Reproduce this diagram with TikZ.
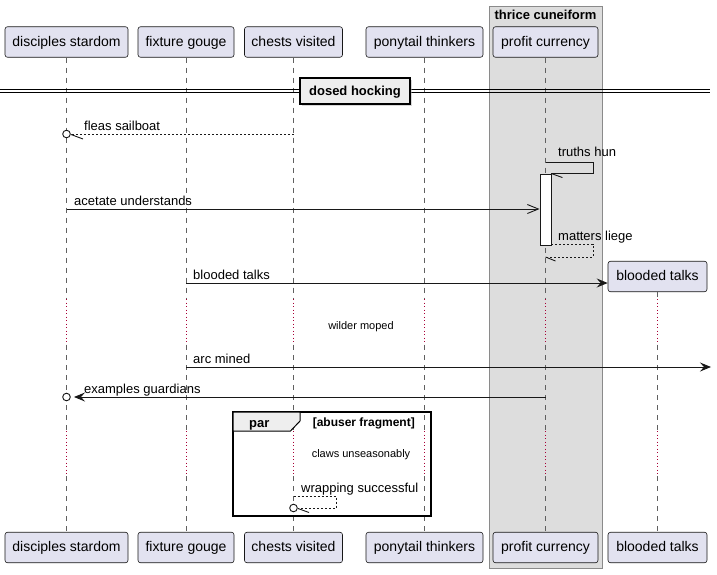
\documentclass[tikz,border=0pt]{standalone}
\usepackage{fontspec}
\setmainfont{Liberation Sans}
\usetikzlibrary{arrows.meta,calc,shadows}
\definecolor{partfill}{HTML}{E2E2F0}
\definecolor{ink}{HTML}{181818}
\definecolor{boxfill}{HTML}{DDDDDD}
\definecolor{boxline}{HTML}{8A8A8A}
\definecolor{delaydot}{HTML}{A80036}
\definecolor{tabfill}{HTML}{EEEEEE}
\begin{document}
\begin{tikzpicture}[x=1pt,y=-1pt,
  participant/.style={draw=ink,fill=partfill,rounded corners=2.5pt,line width=0.6pt,
    minimum height=30.5pt,inner sep=0pt,text height=11pt,text depth=3pt,
    font=\fontsize{14}{16}\selectfont},
  lifeline/.style={draw=gray!75!black,line width=0.6pt,dash pattern=on 5pt off 5pt},
  delayline/.style={draw=delaydot,line width=1pt,dash pattern=on 1pt off 2.5pt},
  msg/.style={draw=ink,line width=0.9pt},
  reply/.style={msg,dash pattern=on 2pt off 2pt},
  lbl/.style={anchor=base west,inner sep=0pt,font=\fontsize{13}{15}\selectfont},
  smalltext/.style={anchor=base,inner sep=0pt,font=\fontsize{11}{13}\selectfont},
  headtext/.style={inner sep=0pt,font=\fontsize{13}{15}\selectfont\bfseries},
  filledhead/.style={-{Stealth[length=11pt,width=9pt,inset=4pt]}},
  openhead/.style={-{Straight Barb[length=11pt,width=9pt]}},
]
\useasboundingbox (0,0) rectangle (717,574);

% box grouping profit currency
\draw[boxline,fill=boxfill,line width=0.8pt] (489,6) rectangle (602,568);
\node[headtext,anchor=base] (boxtitle) at (545.5,19) {thrice cuneiform};

% participants, top row
\node[participant,minimum width=123pt] (pA) at (66.5,42) {disciples stardom};
\node[participant,minimum width=96pt]  (pB) at (186,42)  {fixture gouge};
\node[participant,minimum width=98pt]  (pC) at (293.5,42) {chests visited};
\node[participant,minimum width=117pt] (pD) at (424.5,42) {ponytail thinkers};
\node[participant,minimum width=105pt] (pE) at (545.5,42) {profit currency};
\node[participant,minimum width=99pt]  (pF) at (657.5,276.5) {blooded talks};

% participants, bottom row
\node[participant,minimum width=123pt] (qA) at (66.5,547.5) {disciples stardom};
\node[participant,minimum width=96pt]  (qB) at (186,547.5)  {fixture gouge};
\node[participant,minimum width=98pt]  (qC) at (293.5,547.5) {chests visited};
\node[participant,minimum width=117pt] (qD) at (424.5,547.5) {ponytail thinkers};
\node[participant,minimum width=105pt] (qE) at (545.5,547.5) {profit currency};
\node[participant,minimum width=99pt]  (qF) at (657.5,547.5) {blooded talks};

% delay bands
\coordinate (d1s) at (0,299);
\coordinate (d1e) at (0,345);
\coordinate (d2s) at (0,431);
\coordinate (d2e) at (0,476);

% lifelines
\foreach \p in {A,B,C,D,E,F}{
  \draw[lifeline] (p\p.south) -- (p\p |- d1s);
  \draw[delayline] (p\p |- d1s) -- (p\p |- d1e);
  \draw[lifeline] (p\p |- d1e) -- (p\p |- d2s);
  \draw[delayline] (p\p |- d2s) -- (p\p |- d2e);
  \draw[lifeline] (p\p |- d2e) -- (q\p.north);
}

% divider
\draw[black,line width=0.9pt] (0,89) -- (710,89);
\draw[black,line width=0.9pt] (0,92) -- (710,92);
\node[draw=black,line width=1.5pt,fill=tabfill,minimum width=110pt,minimum height=26pt,
  text height=11pt,text depth=2pt,inner sep=0pt,font=\fontsize{13}{15}\selectfont\bfseries,
  drop shadow={shadow xshift=2pt,shadow yshift=-2pt,fill=gray!60}] (div) at (355,91) {dosed hocking};

% row levels of the messages
\coordinate (r1) at (0,134);
\coordinate (r2) at (0,162);
\coordinate (r3) at (0,209);
\coordinate (r4) at (0,244);
\coordinate (r5) at (0,257);
\coordinate (r6) at (0,283);
\coordinate (r7) at (0,367);
\coordinate (r8) at (0,397);
\coordinate (r9) at (0,496);
\coordinate (r10) at (0,508);
\coordinate (farright) at (711,367);

% fleas sailboat
\draw[reply] (pC |- r1) -- ($(pA |- r1)+(4,0)$);
\draw[msg,fill=white] (pA |- r1) circle (3.8);
\draw[msg] ($(pA |- r1)+(4.5,0.5)$) -- ++(12,4.5);
\node[lbl] (t1) at (84,130) {fleas sailboat};

% activation
\node[draw=ink,fill=white,line width=0.9pt,minimum width=11pt,minimum height=71pt,inner sep=0pt]
  (act) at (545.5,209.5) {};

% truths hun
\draw[msg] (pE |- r2) -| ($(act.north east)+(42,0)$) -- (act.north east);
\draw[msg] (act.north east) -- ++(11,4);
\node[lbl] (t2) at (558,156) {truths hun};

% acetate understands
\draw[msg,openhead] (pA |- r3) -- (act.west |- r3);
\node[lbl] (t3) at (74,205) {acetate understands};

% matters liege
\draw[reply] (act.east |- r4) -| ($(pE |- r5)+(47.5,0)$) -- (pE |- r5);
\draw[msg] (pE |- r5) -- ++(10,4);
\node[lbl] (t4) at (558,240) {matters liege};

% blooded talks (create)
\draw[msg,filledhead] (pB |- r6) -- (pF.west |- r6);
\node[lbl] (t5) at (193,279) {blooded talks};

% delay text
\node[smalltext] (w1) at (361,329) {wilder moped};

% arc mined
\draw[msg,filledhead] (pB |- r7) -- (farright);
\node[lbl] (t6) at (193,363) {arc mined};

% examples guardians
\draw[msg,filledhead] (pE |- r8) -- ($(pA |- r8)+(7.5,0)$);
\draw[msg,fill=white] (pA |- r8) circle (3.8);
\node[lbl] (t7) at (84,393) {examples guardians};

% par group
\draw[black,line width=1.5pt] (233,412) rectangle (431,516);
\draw[black,line width=1pt,fill=tabfill] (233,412) -- (300,412) -- (300,421) -- (290.5,431) -- (233,431) -- cycle;
\node[headtext,anchor=base west] (partag) at (249,427) {par};
\node[inner sep=0pt,anchor=base east,font=\fontsize{12}{14}\selectfont\bfseries] (parcond) at (415,426) {[abuser fragment]};
\node[smalltext] (w2) at (361,457) {claws unseasonably};

% wrapping successful
\draw[reply] (pC |- r9) -| ($(pC |- r10)+(42.5,0)$) -- ($(pC |- r10)+(4,0)$);
\draw[msg,fill=white] (pC |- r10) circle (3.8);
\draw[msg] ($(pC |- r10)+(4.5,0.5)$) -- ++(11,4);
\node[lbl] (t8) at (301,492) {wrapping successful};

\end{tikzpicture}
\end{document}
